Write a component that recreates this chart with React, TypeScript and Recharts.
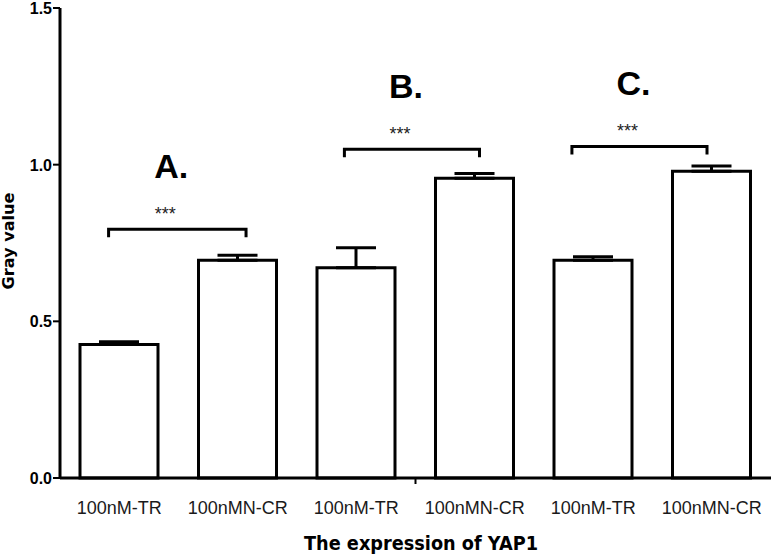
import { BarChart, Bar, XAxis, YAxis, ErrorBar, ReferenceLine } from 'recharts';

// bar groups
const categories = ['100nM-TR', '100nMN-CR', '100nM-TR', '100nMN-CR', '100nM-TR', '100nMN-CR'];
const means = [0.426, 0.695, 0.671, 0.957, 0.695, 0.979];
const sem = [0.009, 0.016, 0.064, 0.015, 0.011, 0.017];
const yTicks = [0, 0.5, 1.0, 1.5];

// significance brackets (positions on a 0..6 slot scale)
const bracketFrom = [0.41, 2.4, 4.32];
const bracketTo = [1.57, 3.54, 5.46];
const bracketLevel = [0.794, 1.049, 1.058];
const bracketTitle = ['A.', 'B.', 'C.'];
const bracketStars = ['***', '***', '***'];

const data = categories.map((name, i) => ({
  name,
  slot: i + 0.5,
  value: means[i],
  err: [0, sem[i]],
}));

const sans = '"Liberation Sans", Arial, sans-serif';
const wide = '"DejaVu Sans", Verdana, sans-serif';

function CategoryTick({ x, y, payload }: any) {
  return (
    <text x={x} y={y + 36} textAnchor="middle" fontFamily={sans} fontSize={18} fill="#1a1a1a">
      {payload.value}
    </text>
  );
}

function ValueTick({ x, y, payload }: any) {
  return (
    <text x={x} y={y} dy={6} textAnchor="end" fontFamily={sans} fontWeight="bold" fontSize={16} fill="#000">
      {Number(payload.value).toFixed(1)}
    </text>
  );
}

function bracketShape(title: string, stars: string) {
  return (props: any) => {
    const { x1, y1, x2 } = props;
    const mid = (x1 + x2) / 2;
    return (
      <g>
        <path
          d={`M${x1},${y1 + 8} V${y1} H${x2} V${y1 + 8}`}
          stroke="#000"
          strokeWidth={3}
          fill="none"
        />
        <text x={mid - 12} y={y1 - 9} textAnchor="middle" fontFamily={sans} fontSize={18} fill="#222">
          {stars}
        </text>
        <text x={mid - 6} y={y1 - 51} textAnchor="middle" fontFamily={sans} fontWeight="bold" fontSize={34} fill="#000">
          {title}
        </text>
      </g>
    );
  };
}

// small tick under the x axis at the middle of the axis
const midTick = (props: any) => {
  const { x1, y1, y2 } = props;
  const base = Math.max(y1, y2);
  return <line x1={x1} y1={base} x2={x1} y2={base + 6} stroke="#000" strokeWidth={2} />;
};

export default function App() {
  return (
    <div style={{ position: 'absolute', left: 0, top: 0, background: '#fff' }}>
      <BarChart width={772} height={554} data={data} margin={{ top: 8, right: 1, left: 0, bottom: 0 }}>
        <XAxis
          dataKey="name"
          height={76}
          tickLine={false}
          tickSize={0}
          tickMargin={0}
          interval={0}
          axisLine={{ stroke: '#000', strokeWidth: 3 }}
          tick={<CategoryTick />}
        />
        <XAxis xAxisId="pos" dataKey="slot" type="number" domain={[0, 6]} allowDataOverflow hide />
        <YAxis
          width={60}
          domain={[0, 1.5]}
          ticks={yTicks}
          interval={0}
          tickSize={7}
          tickMargin={1}
          axisLine={{ stroke: '#000', strokeWidth: 3 }}
          tickLine={{ stroke: '#000', strokeWidth: 2 }}
          tick={<ValueTick />}
        />
        <Bar dataKey="value" barSize={78} fill="#fff" stroke="#000" strokeWidth={3} isAnimationActive={false}>
          <ErrorBar dataKey="err" width={20} strokeWidth={3} stroke="#000" direction="y" />
        </Bar>
        <ReferenceLine xAxisId="pos" x={3} shape={midTick} />
        {bracketTitle.map((t, i) => (
          <ReferenceLine
            key={t}
            xAxisId="pos"
            segment={[
              { x: bracketFrom[i], y: bracketLevel[i] },
              { x: bracketTo[i], y: bracketLevel[i] },
            ]}
            shape={bracketShape(t, bracketStars[i])}
          />
        ))}
      </BarChart>
      <svg width={772} height={554} style={{ position: 'absolute', left: 0, top: 0, pointerEvents: 'none' }}>
        <text
          x={421}
          y={550}
          textAnchor="middle"
          fontFamily={wide}
          fontWeight="bold"
          fontSize={20}
          textLength={234}
          lengthAdjust="spacingAndGlyphs"
          fill="#000"
        >
          The expression of YAP1
        </text>
        <text
          transform="translate(14,241) rotate(-90)"
          textAnchor="middle"
          fontFamily={wide}
          fontWeight="bold"
          fontSize={16}
          textLength={97}
          lengthAdjust="spacingAndGlyphs"
          fill="#000"
        >
          Gray value
        </text>
      </svg>
    </div>
  );
}
